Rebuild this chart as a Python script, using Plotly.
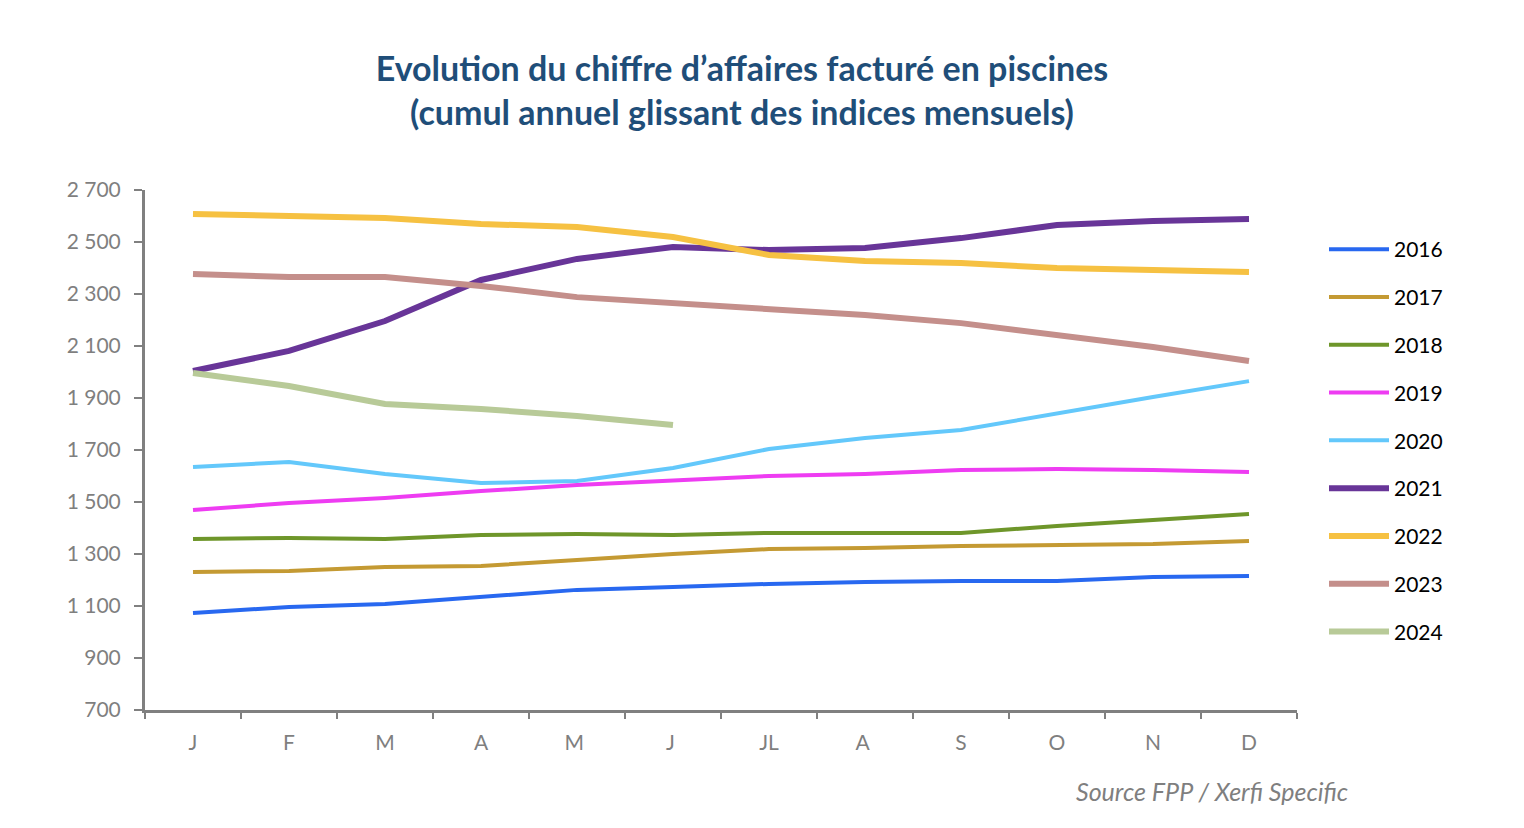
import plotly.graph_objects as go

months = ["J", "F", "M", "A", "M ", "J ", "JL", "A ", "S", "O", "N", "D"]
years = ["2016", "2017", "2018", "2019", "2020", "2021", "2022", "2023", "2024"]

v2016 = [1073, 1096, 1108, 1135, 1162, 1173, 1185, 1192, 1196, 1196, 1212, 1215]
v2017 = [1231, 1235, 1250, 1254, 1277, 1300, 1319, 1323, 1331, 1335, 1338, 1350]
v2018 = [1358, 1362, 1358, 1373, 1377, 1373, 1381, 1381, 1381, 1408, 1431, 1454]
v2019 = [1469, 1496, 1515, 1542, 1565, 1581, 1600, 1608, 1623, 1627, 1623, 1615]
v2020 = [1635, 1654, 1608, 1573, 1581, 1631, 1704, 1746, 1777, 1842, 1904, 1965]
v2021 = [2004, 2081, 2196, 2354, 2435, 2481, 2469, 2477, 2515, 2565, 2581, 2588]
v2022 = [2608, 2600, 2592, 2569, 2558, 2519, 2450, 2427, 2419, 2400, 2392, 2385]
v2023 = [2377, 2365, 2365, 2331, 2288, 2265, 2242, 2219, 2188, 2142, 2096, 2042]
v2024 = [1996, 1946, 1877, 1858, 1831, 1796]

series = [v2016, v2017, v2018, v2019, v2020, v2021, v2022, v2023, v2024]
colors = ["#2868f0", "#c49a33", "#6e962a", "#ee3cf2", "#63c8fb",
          "#683598", "#f6c142", "#c48f8b", "#b8ca98"]
widths = [4, 4, 4, 4, 4, 6, 6, 6, 6]

y_ticks = [700, 900, 1100, 1300, 1500, 1700, 1900, 2100, 2300, 2500, 2700]

fig = go.Figure()
for name, vals, col, w in zip(years, series, colors, widths):
    fig.add_trace(go.Scatter(
        x=months[:len(vals)], y=vals, name=name, mode="lines",
        line=dict(color=col, width=w), legendgroup=name,
    ))

axis_col = "#808080"
fig.update_layout(
    width=1524, height=828,
    paper_bgcolor="white", plot_bgcolor="white",
    margin=dict(l=137, r=235, t=182, b=126),
    separators=", ",
    font=dict(family="Lato", size=20, color="#7f7f7f"),
    title=dict(
        text="<b>Evolution du chiffre d’affaires facturé en piscines<br>(cumul annuel glissant des indices mensuels)</b>",
        x=734 / 1524, xanchor="center", xref="container",
        y=1 - 73 / 828, yanchor="middle", yref="container",
        font=dict(family="Lato", size=34, color="#1f4e79"),
    ),
    xaxis=dict(
        type="category", categoryorder="array", categoryarray=months,
        range=[-0.5, 11.5],
        showline=True, linecolor=axis_col, linewidth=3,
        ticks="outside", tickson="boundaries", ticklen=6, tickwidth=2, tickcolor=axis_col,
        showgrid=False, zeroline=False, ticklabelstandoff=12,
        tickfont=dict(size=21, color="#7f7f7f"),
    ),
    yaxis=dict(
        range=[700, 2700], tickvals=y_ticks, tickformat=",d",
        showline=True, linecolor=axis_col, linewidth=3,
        ticks="outside", ticklen=8, tickwidth=2, tickcolor=axis_col,
        showgrid=False, zeroline=False, ticklabelstandoff=9,
        tickfont=dict(size=21, color="#7f7f7f"),
    ),
    legend=dict(
        x=(1324 - 145) / 1152, xanchor="left", y=(710 - 229) / 520, yanchor="top",
        font=dict(family="Lato", size=21, color="#000000"),
        tracegroupgap=17.5, bgcolor="rgba(0,0,0,0)", itemwidth=60,
    ),
    annotations=[dict(
        text="<i>Source FPP / Xerfi Specific</i>",
        xref="paper", yref="paper", x=(1350 - 145) / 1152, y=-81 / 520,
        xanchor="right", yanchor="middle", showarrow=False,
        font=dict(family="Lato", size=25, color="#7f7f7f"),
    )],
)

fig.write_html("out.html")
